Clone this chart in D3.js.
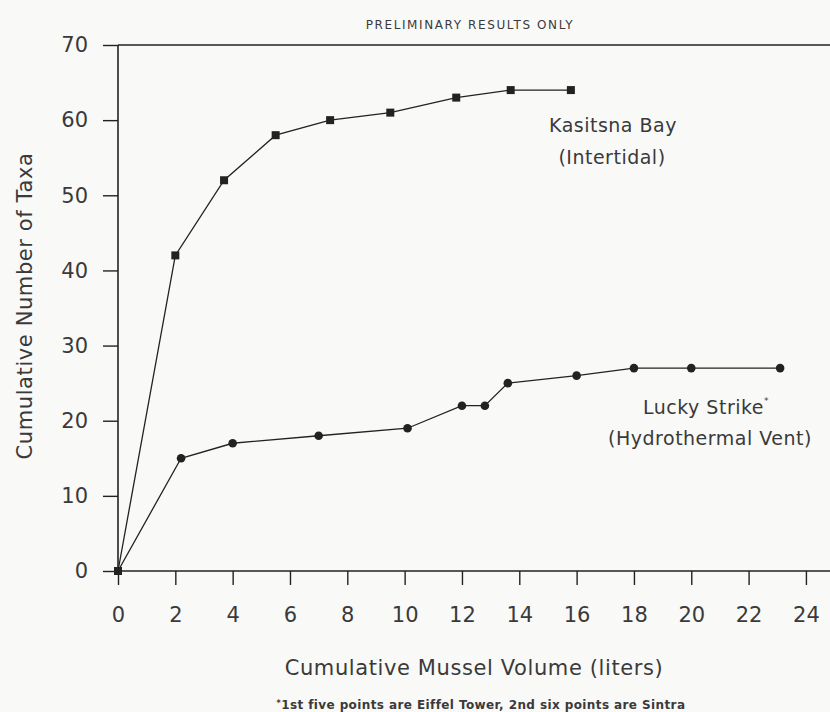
<!DOCTYPE html>
<html>
<head>
<meta charset="utf-8">
<script src="https://cdn.jsdelivr.net/npm/d3@7"></script>
<style>
  body { margin: 0; background: #f9f9f8; }
  svg { display: block; }
  text { font-family: "DejaVu Sans", sans-serif; fill: #3a3a3a; }
</style>
</head>
<body>
<svg id="chart" width="830" height="712"></svg>
<script>
// Kasitsna Bay (intertidal), square markers
const kasitsnaX = [0, 2.0, 3.7, 5.5, 7.4, 9.5, 11.8, 13.7, 15.8]
const kasitsnaY = [0, 42, 52, 58, 60, 61, 63, 64, 64]

// Lucky Strike (hydrothermal vent), round markers
const luckyX = [0, 2.2, 4.0, 7.0, 10.1, 12.0, 12.8, 13.6, 16.0, 18.0, 20.0, 23.1]
const luckyY = [0, 15, 17, 18, 19, 22, 22, 25, 26, 27, 27, 27]

const xTicks = [0, 2, 4, 6, 8, 10, 12, 14, 16, 18, 20, 22, 24]
const yTicks = [0, 10, 20, 30, 40, 50, 60, 70]

const svg = d3.select('#chart')
const margin = { top: 45, right: 0, bottom: 141, left: 118 }
const width = 830
const height = 712

const x = d3.scaleLinear().domain([0, 24.84]).range([margin.left, width - margin.right])
const y = d3.scaleLinear().domain([0, 70]).range([height - margin.bottom, margin.top])

const ink = '#222'

// x axis
const xAxis = svg.append('g')
  .attr('transform', 'translate(0,' + y(0) + ')')
  .call(d3.axisBottom(x).tickValues(xTicks).tickSize(14).tickPadding(22).tickFormat(d3.format('d')))
xAxis.select('.domain').attr('stroke', ink).attr('stroke-width', 1.6).attr('d', 'M' + x(0) + ',0H' + width)
xAxis.selectAll('line').attr('stroke', ink).attr('stroke-width', 1.4)
xAxis.selectAll('text').style('font-size', '21px').attr('fill', '#3a3a3a')

// y axis
const yAxis = svg.append('g')
  .attr('transform', 'translate(' + x(0) + ',0)')
  .call(d3.axisLeft(y).tickValues(yTicks).tickSize(15).tickPadding(15))
yAxis.select('.domain').attr('stroke', ink).attr('stroke-width', 1.6).attr('d', 'M0,' + y(70) + 'V' + (y(0) + 4))
yAxis.selectAll('line').attr('stroke', ink).attr('stroke-width', 1.4)
yAxis.selectAll('text').style('font-size', '21px').attr('fill', '#3a3a3a')

// top frame line
svg.append('line')
  .attr('x1', x(0)).attr('x2', width)
  .attr('y1', y(70)).attr('y2', y(70))
  .attr('stroke', ink).attr('stroke-width', 1.6)

const line = d3.line().x(d => x(d[0])).y(d => y(d[1]))

const kasitsna = kasitsnaX.map((v, i) => [v, kasitsnaY[i]])
const lucky = luckyX.map((v, i) => [v, luckyY[i]])

svg.append('path').datum(kasitsna)
  .attr('d', line).attr('fill', 'none').attr('stroke', ink).attr('stroke-width', 1.3)
svg.append('path').datum(lucky)
  .attr('d', line).attr('fill', 'none').attr('stroke', ink).attr('stroke-width', 1.3)

svg.selectAll('.sq').data(kasitsna).enter().append('rect')
  .attr('class', 'sq')
  .attr('x', d => x(d[0]) - 4).attr('y', d => y(d[1]) - 4)
  .attr('width', 8).attr('height', 8)
  .attr('fill', ink)

svg.selectAll('.dot').data(lucky.slice(1)).enter().append('circle')
  .attr('class', 'dot')
  .attr('cx', d => x(d[0])).attr('cy', d => y(d[1]))
  .attr('r', 4.3)
  .attr('fill', ink)

// texts
svg.append('text').attr('x', 470).attr('y', 29).attr('text-anchor', 'middle')
  .style('font-size', '12px').style('letter-spacing', '1.6px').text('PRELIMINARY RESULTS ONLY')

svg.append('text').attr('transform', 'translate(32,306) rotate(-90)').attr('text-anchor', 'middle')
  .style('font-size', '21px').style('letter-spacing', '0.6px').text('Cumulative Number of Taxa')

svg.append('text').attr('x', 474).attr('y', 675).attr('text-anchor', 'middle')
  .style('font-size', '21px').style('letter-spacing', '0.6px').text('Cumulative Mussel Volume (liters)')

const foot = svg.append('text').attr('x', 481).attr('y', 709).attr('text-anchor', 'middle')
  .style('font-size', '12px').style('font-weight', 'bold').style('letter-spacing', '0.4px')
foot.append('tspan').attr('dy', -3).style('font-size', '8px').text('*')
foot.append('tspan').attr('dy', 3).text('1st five points are Eiffel Tower, 2nd six points are Sintra')

svg.append('text').attr('x', 613).attr('y', 132).attr('text-anchor', 'middle')
  .style('font-size', '19px').style('letter-spacing', '0.5px').text('Kasitsna Bay')
svg.append('text').attr('x', 612).attr('y', 164).attr('text-anchor', 'middle')
  .style('font-size', '19px').style('letter-spacing', '0.5px').text('(Intertidal)')

const lucky1 = svg.append('text').attr('x', 706).attr('y', 414).attr('text-anchor', 'middle')
  .style('font-size', '19px').style('letter-spacing', '0.5px')
lucky1.append('tspan').text('Lucky Strike')
lucky1.append('tspan').attr('dy', -10).style('font-size', '9px').text('*')
svg.append('text').attr('x', 710).attr('y', 445).attr('text-anchor', 'middle')
  .style('font-size', '19px').style('letter-spacing', '0.5px').text('(Hydrothermal Vent)')
</script>
</body>
</html>
